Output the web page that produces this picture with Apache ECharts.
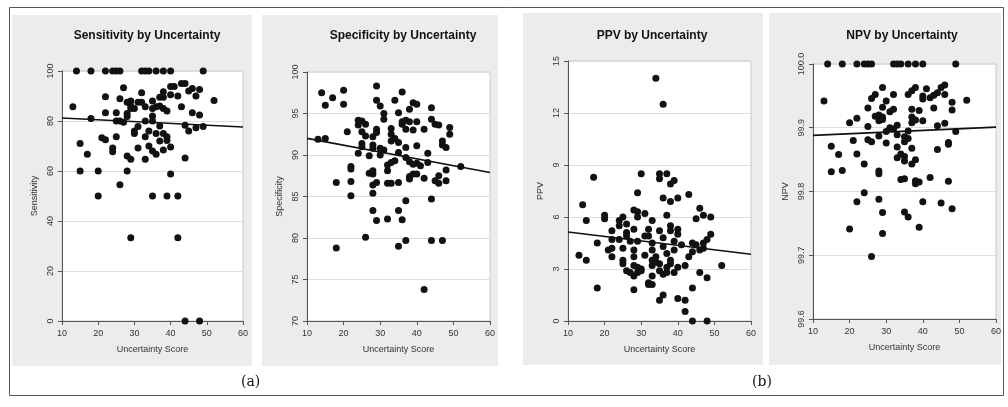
<!DOCTYPE html>
<html>
<head>
<meta charset="utf-8">
<script src="https://cdn.jsdelivr.net/npm/echarts@6/dist/echarts.min.js"></script>
<style>
  html, body { margin: 0; padding: 0; background: #fff; }
  #chart { width: 1008px; height: 407px; }
</style>
</head>
<body>
<div id="chart"></div>
<script>
// 数据：每个点 [不确定性得分, 指标值]
var sensPts = [
  [14,100],[18,100],[22,100],[24,100],[25,100],[26,100],[32,100],[33,100],[34,100],[36,100],[38,100],[40,100],[49,100],
  [13,85.7],[15,71],[15,60],[17,66.7],[18,81],[20,60],[20,50],[21,73.3],[22,72.5],[22,89.7],[22,83.3],
  [24,69.2],[24,67.7],[25,73.7],[25,83.3],[25,80],[26,88.9],[26,54.5],[26,80],[27,93.3],[27,79.5],
  [28,81.8],[28,83],[28,66],[28,60],[28,87.5],[29,88],[29,86],[29,85],[29,64.7],[29,33.3],
  [30,85],[30,76],[30,75],[31,77.8],[31,69.2],[31,87.5],[32,91.3],[32,87.5],[33,85.7],[33,80],[33,73.7],[33,64.7],
  [34,70],[34,76],[35,88],[35,85],[35,82],[35,80],[35,68],[35,50],[36,85.7],[36,75],[36,66.7],
  [37,89.5],[37,86],[37,78],[37,72],[38,91.7],[38,89.5],[38,85],[38,75],[38,68.4],
  [39,84],[39,73.7],[39,72.2],[39,50],[40,93.8],[40,90.5],[40,69.6],[40,58.8],[41,93.8],
  [42,90],[42,50],[42,33.3],[43,95],[43,85.7],[44,95],[44,78.3],[44,65.2],[44,0],[45,92],[45,76],
  [46,93],[46,83.3],[47,90],[47,77.3],[48,92.6],[48,82.4],[48,0],[49,77.8],[52,88.2]
];
var specPts = [
  [13,91.9],[14,97.5],[15,96],[15,92],[17,96.9],[18,86.7],[18,78.8],[20,97.8],[20,96.1],[21,92.8],
  [22,88.6],[22,88.3],[22,86.8],[22,85.1],[24,94.2],[24,93.6],[24,90.2],[25,94.1],[25,92.8],[25,91.4],[25,91],
  [26,93.7],[26,92.3],[26,80.1],[27,89.9],[27,87.8],[28,92.2],[28,91.2],[28,90.8],[28,88.1],[28,87.7],[28,86.4],[28,85.4],[28,83.3],
  [29,98.3],[29,96.6],[29,93.1],[29,92.7],[29,86.7],[29,82.1],[30,95.9],[30,90.8],[30,90],[31,95],[31,94.3],[31,90.6],
  [32,88.8],[32,88.1],[32,86.6],[32,82.3],[33,93.2],[33,92.5],[33,91.7],[33,89.1],[33,86.6],[34,96.6],[34,92],[34,89.3],
  [35,95.1],[35,91.5],[35,90.3],[35,86.7],[35,83.3],[35,79],[36,97.6],[36,94],[36,93.7],[36,82.2],
  [37,94.2],[37,93.1],[37,90.9],[37,89.7],[37,84.5],[37,79.7],[38,95.5],[38,94],[38,89.2],[38,87.4],[38,87.1],
  [39,96.3],[39,93],[39,88.9],[39,87.7],[40,96.1],[40,94],[40,91.1],[40,89],[40,87.7],[41,88.7],
  [42,93.1],[42,87.2],[42,73.8],[43,90.2],[43,89.1],[44,95.7],[44,94.3],[44,84.7],[44,79.7],[45,93.7],[45,86.9],
  [46,93.6],[46,87.5],[46,86.6],[47,91.7],[47,91.2],[47,79.7],[48,90.9],[48,88.2],[48,86.9],[49,93.3],[49,92.5],[52,88.6]
];
var ppvPts = [
  [13,3.8],[14,6.7],[15,5.8],[15,3.5],[17,8.3],[18,4.5],[18,1.9],[20,6.1],[20,5.9],[21,4.1],
  [22,5.2],[22,4.7],[22,3.7],[22,4.2],[24,5.8],[24,5.5],[24,4.7],[25,6],[25,4.2],[25,3.5],[25,3.3],
  [26,5.6],[26,5.1],[26,4.9],[26,2.9],[27,4.6],[27,2.8],[28,6.4],[28,5.3],[28,4.1],[28,3.7],[28,3.2],[28,2.6],[28,1.8],
  [29,7.4],[29,6.3],[29,6],[29,4.6],[29,3.1],[29,2.8],[30,8.5],[30,3],[30,2.9],[31,6.2],[31,4.9],[31,3.8],
  [32,5.3],[32,4.9],[32,2.2],[32,2.1],[33,5.8],[33,4.5],[33,4.1],[33,3.5],[33,3.2],[33,2.6],[33,2.1],
  [34,14],[34,3.7],[34,3.4],[35,8.5],[35,8.2],[35,5.2],[35,3.3],[35,2.9],[35,1.2],
  [36,12.5],[36,7.1],[36,4.8],[36,4.3],[36,2.7],[36,1.5],[37,8.5],[37,6.1],[37,3.9],[37,3.1],[37,2.8],
  [38,7.9],[38,6.9],[38,5.5],[38,5.2],[38,3.5],[38,3.3],[39,8.1],[39,4.6],[39,4.1],[39,2.8],
  [40,7.1],[40,5.3],[40,5],[40,3.1],[40,1.3],[41,4.4],[42,3.2],[42,1.2],[42,0.55],[43,7.3],[43,3.7],
  [44,4.5],[44,4],[44,1.9],[44,0],[45,5.9],[45,4.4],[46,6.5],[46,4.1],[46,2.8],[47,6.1],[47,4.2],[47,4.5],
  [48,4.7],[48,2.5],[48,0],[49,6],[49,5],[52,3.2]
];
var npvPts = [
  [14,100],[18,100],[22,100],[24,100],[25,100],[26,100],[32,100],[33,100],[34,100],[36,100],[38,100],[40,100],[49,100],
  [13,99.942],[15,99.871],[15,99.831],[17,99.858],[18,99.833],[20,99.908],[20,99.741],[21,99.88],
  [22,99.915],[22,99.859],[22,99.784],[24,99.843],[24,99.798],[25,99.931],[25,99.902],[25,99.881],
  [26,99.946],[26,99.878],[26,99.698],[27,99.952],[27,99.918],[28,99.92],[28,99.911],[28,99.887],[28,99.832],[28,99.828],[28,99.788],
  [29,99.963],[29,99.932],[29,99.917],[29,99.913],[29,99.767],[29,99.734],[30,99.942],[30,99.894],[30,99.876],
  [31,99.925],[31,99.9],[32,99.952],[32,99.929],[32,99.898],[33,99.904],[33,99.889],[33,99.87],[33,99.853],
  [34,99.859],[34,99.819],[35,99.886],[35,99.878],[35,99.855],[35,99.848],[35,99.82],[35,99.768],
  [36,99.952],[36,99.895],[36,99.883],[36,99.76],[37,99.958],[37,99.929],[37,99.917],[37,99.908],[37,99.868],[37,99.843],
  [38,99.963],[38,99.912],[38,99.85],[38,99.817],[38,99.812],[39,99.927],[39,99.815],[39,99.744],
  [40,99.95],[40,99.945],[40,99.911],[40,99.784],[41,99.961],[42,99.947],[42,99.822],[43,99.951],[43,99.931],
  [44,99.955],[44,99.903],[44,99.866],[45,99.963],[45,99.782],[46,99.967],[46,99.952],[46,99.907],
  [47,99.877],[47,99.874],[47,99.816],[48,99.94],[48,99.928],[48,99.773],[49,99.894],[52,99.943]
];

// 回归线（在 x=10 和 x=60 处读出的值）
var fitX = [10, 60];
var sensFit = [81.2, 77.6];
var specFit = [92.0, 87.9];
var ppvFit = [5.13, 3.85];
var npvFit = [99.888, 99.901];

var titles = ['Sensitivity by Uncertainty', 'Specificity by Uncertainty', 'PPV by Uncertainty', 'NPV by Uncertainty'];
var yNames = ['Sensitivity', 'Specificity', 'PPV', 'NPV'];
var xName = 'Uncertainty Score';
var yMin = [0, 70, 0, 99.6];
var yMax = [100, 100, 15, 100];
var yStep = [20, 5, 3, 0.1];
var yDigits = [0, 0, 0, 1];
var xTicks = [10, 60, 10]; // min, max, interval

var allPts = [sensPts, specPts, ppvPts, npvPts];
var allFit = [sensFit, specFit, ppvFit, npvFit];

// 布局
var grids = [
  {left: 62, top: 71, width: 181, height: 250},
  {left: 307, top: 72, width: 183, height: 249},
  {left: 568, top: 61, width: 183, height: 260},
  {left: 813, top: 64, width: 183, height: 255}
];
var titleX = [142, 398, 647, 897];
var panels = [[12, 15, 240, 351], [262, 15, 236, 351], [523, 13, 240, 352], [769, 13, 232, 352]];

var font = '"Liberation Sans", Arial, sans-serif';
var chart = echarts.init(document.getElementById('chart'));

var option = {
  animation: false,
  backgroundColor: '#fff',
  title: titles.map(function (t, i) {
    return {
      text: t, left: titleX[i], top: 25, textAlign: 'center',
      textStyle: {fontFamily: font, fontSize: 12, fontWeight: 'bold', color: '#111'}
    };
  }),
  grid: grids.map(function (g) {
    return {left: g.left, top: g.top, width: g.width, height: g.height,
      show: true, backgroundColor: '#fff', borderColor: '#c8c8c8', borderWidth: 1};
  }),
  xAxis: grids.map(function (g, i) {
    return {
      type: 'value', gridIndex: i, min: xTicks[0], max: xTicks[1], interval: xTicks[2],
      name: xName, nameLocation: 'middle', nameGap: 24,
      nameTextStyle: {fontFamily: font, fontSize: 9, color: '#333'},
      axisLine: {lineStyle: {color: '#555', width: 1}},
      axisTick: {show: true, length: 4, lineStyle: {color: '#555'}},
      axisLabel: {fontFamily: font, fontSize: 9, color: '#333', margin: 8},
      splitLine: {show: false}
    };
  }),
  yAxis: grids.map(function (g, i) {
    return {
      type: 'value', gridIndex: i, min: yMin[i], max: yMax[i], interval: yStep[i],
      name: yNames[i], nameLocation: 'middle', nameGap: 23,
      nameTextStyle: {fontFamily: font, fontSize: 9, color: '#333'},
      axisLine: {show: true, lineStyle: {color: '#555', width: 1}},
      axisTick: {show: true, length: 4, lineStyle: {color: '#555'}},
      axisLabel: {fontFamily: font, fontSize: 9, color: '#333', rotate: 90, margin: 7,
        formatter: function (v) { return Number(v).toFixed(yDigits[i]); }},
      splitLine: {show: true, lineStyle: {color: '#dcdcdc', width: 1}}
    };
  }),
  series: [],
  graphic: []
};

allPts.forEach(function (pts, i) {
  option.series.push({
    type: 'scatter', xAxisIndex: i, yAxisIndex: i, data: pts,
    symbolSize: 7, itemStyle: {color: '#121212', opacity: 1}, z: 3
  });
  option.series.push({
    type: 'line', xAxisIndex: i, yAxisIndex: i,
    data: fitX.map(function (x, k) { return [x, allFit[i][k]]; }),
    symbol: 'none', lineStyle: {color: '#111', width: 1.6}, z: 4, silent: true
  });
});

// 灰色面板背景
panels.forEach(function (p) {
  option.graphic.push({
    type: 'rect', z: -10, silent: true,
    shape: {x: p[0], y: p[1], width: p[2], height: p[3]},
    style: {fill: '#ececec'}
  });
});
// 外框
option.graphic.push({
  type: 'rect', z: -20, silent: true,
  shape: {x: 9.5, y: 7.5, width: 994, height: 388},
  style: {fill: 'none', stroke: '#555', lineWidth: 1}
});
option.graphic.push({
  type: 'text', left: 241, top: 375, silent: true,
  style: {text: '(a)', fontFamily: '"DejaVu Serif", "Liberation Serif", serif', fontSize: 14, fill: '#111'}
});
option.graphic.push({
  type: 'text', left: 752, top: 375, silent: true,
  style: {text: '(b)', fontFamily: '"DejaVu Serif", "Liberation Serif", serif', fontSize: 14, fill: '#111'}
});

chart.setOption(option);
</script>
</body>
</html>
